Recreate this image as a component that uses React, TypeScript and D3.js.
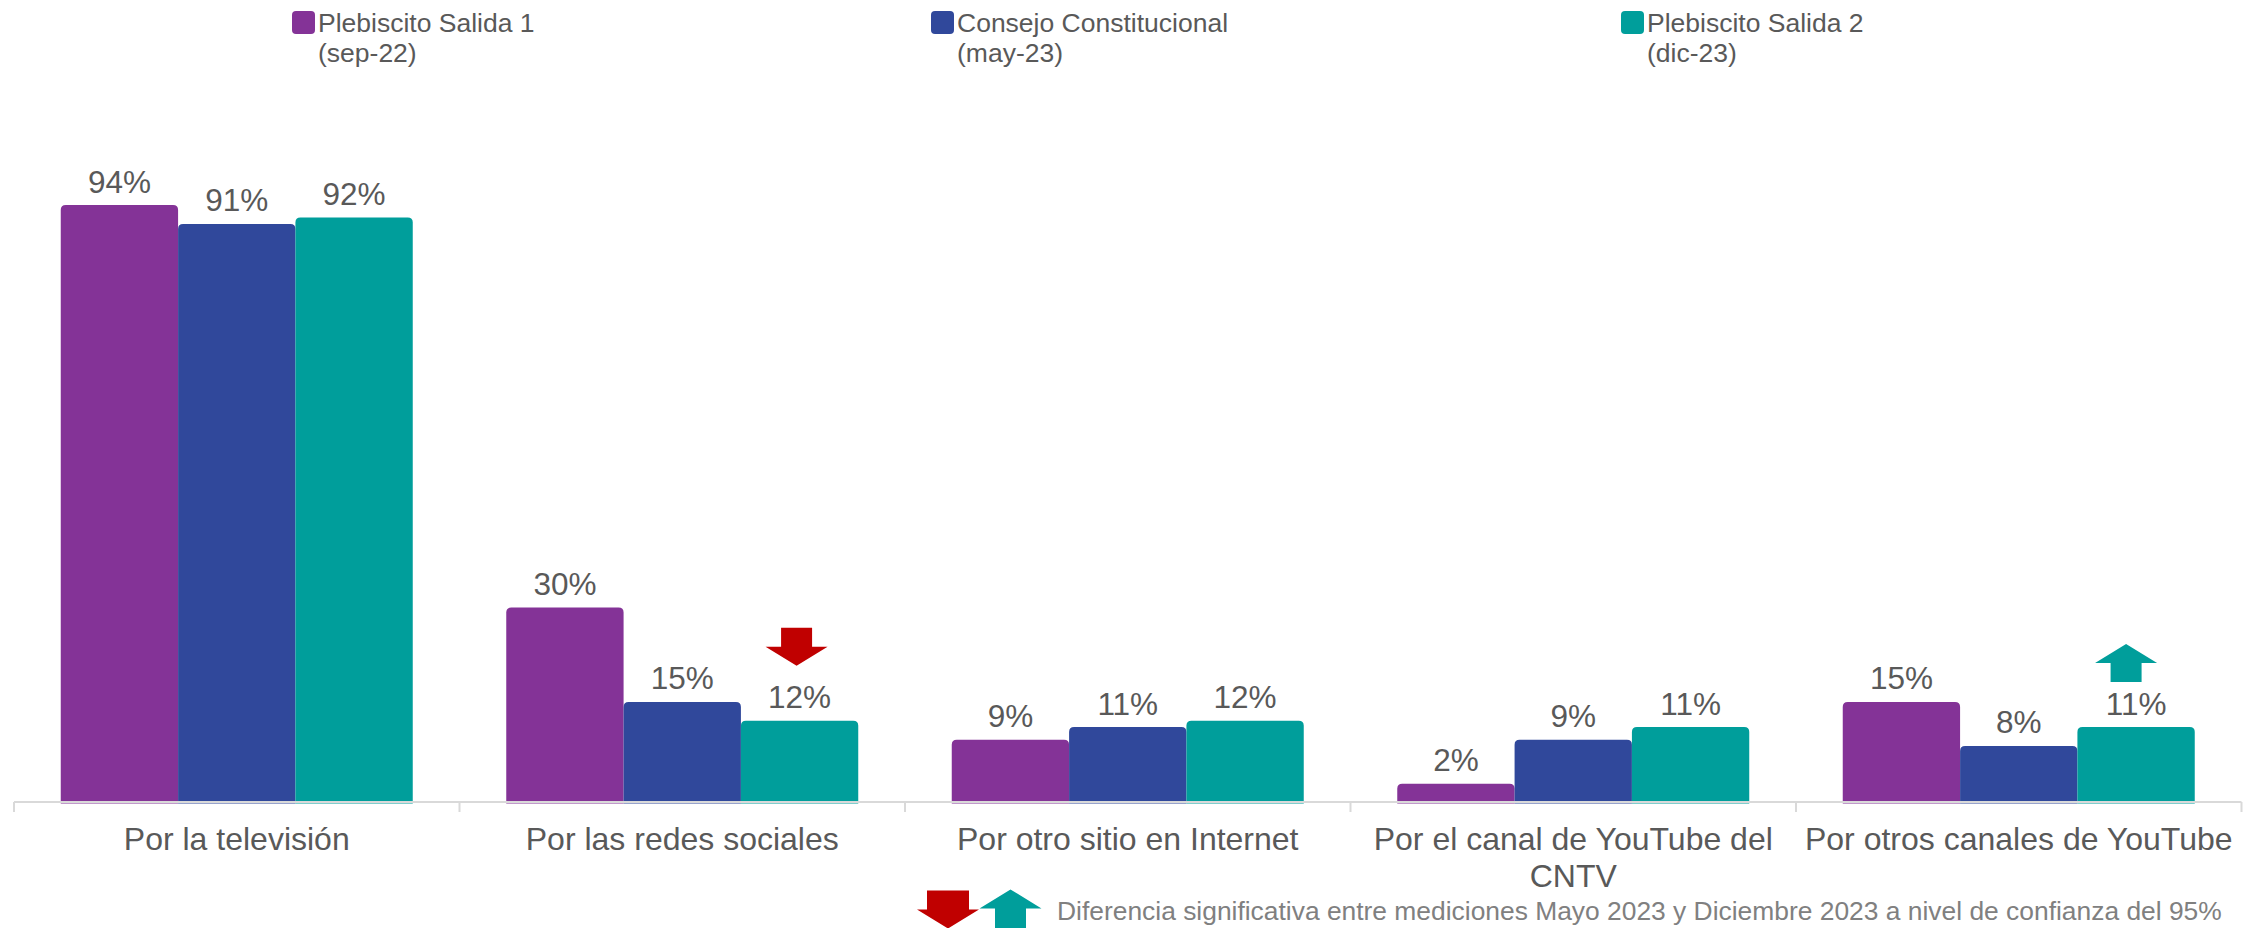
import React from "react";
import * as d3 from "d3";

const categories: string[][] = [
  ["Por la televisión"],
  ["Por las redes sociales"],
  ["Por otro sitio en Internet"],
  ["Por el canal de YouTube del", "CNTV"],
  ["Por otros canales de YouTube"],
];
const seriesNames = ["Plebiscito Salida 1", "Consejo Constitucional", "Plebiscito Salida 2"];
const seriesDates = ["(sep-22)", "(may-23)", "(dic-23)"];
const salida1 = [94, 30, 9, 2, 15];
const consejo = [91, 15, 11, 9, 8];
const salida2 = [92, 12, 12, 11, 11];
const seriesValues = [salida1, consejo, salida2];
const colors = ["#843397", "#30489B", "#009E9B"];
const arrowMarks = [
  { cat: 1, series: 2, dir: "down" },
  { cat: 4, series: 2, dir: "up" },
];
const footnote =
  "Diferencia significativa entre mediciones Mayo 2023 y Diciembre 2023 a nivel de confianza del 95%";

const W = 2263;
const H = 928;
const FONT = "'Liberation Sans', Arial, sans-serif";
const TXT = "#595959";
const legendX = [292, 931, 1621];

function topRoundedRect(x: number, y: number, w: number, h: number, r: number) {
  const rr = Math.min(r, h / 2, w / 2);
  return `M${x},${y + h}V${y + rr}Q${x},${y} ${x + rr},${y}H${x + w - rr}Q${x + w},${y} ${x + w},${y + rr}V${y + h}Z`;
}

function arrowPath(cx: number, top: number, dir: string, headW: number, shaftW: number, headH: number, shaftH: number) {
  if (dir === "down") {
    const hs = top + shaftH;
    const tip = hs + headH;
    return `M${cx - shaftW / 2},${top}H${cx + shaftW / 2}V${hs}H${cx + headW / 2}L${cx},${tip}L${cx - headW / 2},${hs}H${cx - shaftW / 2}Z`;
  }
  const hb = top + headH;
  const bot = hb + shaftH;
  return `M${cx},${top}L${cx + headW / 2},${hb}H${cx + shaftW / 2}V${bot}H${cx - shaftW / 2}V${hb}H${cx - headW / 2}Z`;
}

export default function App() {
  const x0 = d3
    .scaleBand<number>()
    .domain(categories.map((_, i) => i))
    .range([14, 2241.5])
    .padding(0);
  const bw = x0.bandwidth();
  const groupW = 352;
  const x1 = d3
    .scaleBand<number>()
    .domain(seriesNames.map((_, i) => i))
    .range([(bw - groupW) / 2, (bw + groupW) / 2])
    .padding(0);
  const y = d3.scaleLinear().domain([0, 100]).range([796.3, 167.3]);
  const axisY = 802;
  const barBottom = 803.5;

  const ticks = d3.range(categories.length + 1).map((i) => 14 + i * bw);

  return (
    <svg
      width={W}
      height={H}
      style={{ position: "absolute", left: 0, top: 0, display: "block", background: "#fff" }}
      fontFamily={FONT}
    >
      {/* Legend */}
      {seriesNames.map((s, i) => (
        <g key={s}>
          <rect x={legendX[i]} y={11} width={23} height={23} rx={4} fill={colors[i]} />
          <text x={legendX[i] + 26} y={32} fontSize={26.5} fill={TXT}>
            {s}
          </text>
          <text x={legendX[i] + 26} y={62} fontSize={26.5} fill={TXT}>
            {seriesDates[i]}
          </text>
        </g>
      ))}

      {/* Bars */}
      {categories.map((_, ci) => (
        <g key={ci} transform={`translate(${x0(ci)},0)`}>
          {seriesValues.map((vals, si) => {
            const v = vals[ci];
            const yt = y(v);
            return (
              <g key={si}>
                <path
                  d={topRoundedRect(x1(si)!, yt, x1.bandwidth(), barBottom - yt, 5)}
                  fill={colors[si]}
                />
                <text
                  x={x1(si)! + x1.bandwidth() / 2}
                  y={yt - 12.5}
                  textAnchor="middle"
                  fontSize={31.5}
                  fill={TXT}
                >
                  {v}%
                </text>
              </g>
            );
          })}
        </g>
      ))}

      {/* Axis */}
      <line x1={ticks[0]} x2={ticks[ticks.length - 1]} y1={axisY} y2={axisY} stroke="#D9D9D9" strokeWidth={2} />
      {ticks.map((t, i) => (
        <line key={i} x1={t} x2={t} y1={axisY} y2={axisY + 10} stroke="#D9D9D9" strokeWidth={2} />
      ))}
      {categories.map((lines, ci) => (
        <text key={ci} textAnchor="middle" fontSize={32} fill={TXT}>
          {lines.map((l, li) => (
            <tspan key={li} x={x0(ci)! + bw / 2} y={850 + li * 37}>
              {l}
            </tspan>
          ))}
        </text>
      ))}

      {/* Significance arrows */}
      {arrowMarks.map((a, i) => {
        const cx = x0(a.cat)! + x1(a.series)! + x1.bandwidth() / 2 + (a.dir === "down" ? -3 : -10);
        const v = seriesValues[a.series][a.cat];
        const bottom = y(v) - (a.dir === "down" ? 55 : 45);
        const top = bottom - 38;
        return (
          <path
            key={i}
            d={arrowPath(cx, top, a.dir, 62, 31, 19, 19)}
            fill={a.dir === "down" ? "#C00000" : "#009E9B"}
          />
        );
      })}

      {/* Footnote */}
      <path d={arrowPath(948, 890.5, "down", 62, 42, 19, 19)} fill="#C00000" />
      <path d={arrowPath(1010.5, 889.5, "up", 62, 31, 19, 20)} fill="#009E9B" />
      <text x={1057} y={920} fontSize={26.4} fill="#808080">
        {footnote}
      </text>
    </svg>
  );
}
